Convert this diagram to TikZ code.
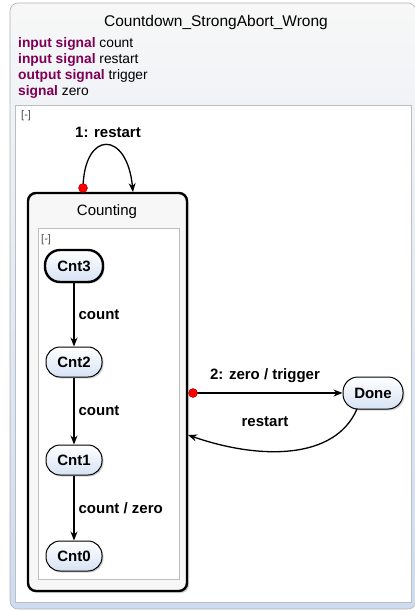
\documentclass[tikz,border=0pt]{standalone}
\usepackage{fontspec}
\setmainfont{Liberation Sans}
\usetikzlibrary{arrows.meta,shadows}
\definecolor{kw}{RGB}{127,0,85}
\definecolor{outerb}{RGB}{205,220,242}
\definecolor{stfill}{RGB}{214,226,244}
\definecolor{regline}{RGB}{190,190,190}
\tikzset{
  statenode/.style={draw=black, line width=1pt, rounded corners=14pt, minimum height=30pt, minimum width=56pt,
    top color=white, bottom color=stfill, font=\bfseries\fontsize{15}{17}\selectfont, inner sep=2pt,
    drop shadow={shadow xshift=1.5pt, shadow yshift=-1.5pt, opacity=0.35}},
  initstate/.style={statenode, line width=2.4pt},
  trans/.style={-{Stealth[length=9pt,width=7pt]}, line width=1.3pt},
  lbl/.style={font=\bfseries\fontsize{15}{17}\selectfont, inner sep=1pt},
  decl/.style={anchor=west, inner sep=0pt, font=\fontsize{13.8}{16}\selectfont},
  reddot/.style={circle, fill=red, draw=red!60!black, line width=0.4pt, minimum size=9pt, inner sep=0pt},
  region/.style={draw=regline, fill=white, line width=0.8pt},
  minus/.style={font=\fontsize{11}{13}\selectfont, text=black!70, inner sep=0pt, anchor=north west},
}
\begin{document}
\begin{tikzpicture}[x=1pt,y=-1pt]
\useasboundingbox (0,0) rectangle (415,611);
% outer state
\path[draw=black!30, rounded corners=8pt, top color=black!3, bottom color=outerb, line width=0.6pt]
  (10,3) rectangle (416,609);
\node (title) at (216,22) {\fontsize{15.5}{18}\selectfont Countdown\_StrongAbort\_Wrong};
\node[decl] (d1) at (18,44) {\textcolor{kw}{\bfseries input signal} count};
\node[decl] (d2) at (18,60) {\textcolor{kw}{\bfseries input signal} restart};
\node[decl] (d3) at (18,76) {\textcolor{kw}{\bfseries output signal} trigger};
\node[decl] (d4) at (18,92) {\textcolor{kw}{\bfseries signal} zero};
% top region
\path[region] (15,105) rectangle (411,602);
\node[minus] (m1) at (21,110) {[-]};
% Counting
\path[draw=black, line width=2.4pt, rounded corners=8pt, fill=black!3,
  drop shadow={shadow xshift=2pt, shadow yshift=-2pt, opacity=0.35}] (28,193) rectangle (187,591);
\node (ctitle) at (107,212) {\fontsize{15}{17}\selectfont Counting};
\path[region] (38,228) rectangle (179,579);
\node[minus] (m2) at (41,234) {[-]};
% states
\node[initstate, minimum width=58pt, minimum height=32pt, rounded corners=15pt] (c3) at (74,266) {Cnt3};
\node[statenode] (c2) at (74,362) {Cnt2};
\node[statenode] (c1) at (74,460) {Cnt1};
\node[statenode] (c0) at (74,556) {Cnt0};
\node[statenode, minimum width=60pt, minimum height=32pt, rounded corners=15pt] (done) at (373,393) {Done};
% inner transitions
\draw[trans] (c3) -- (c2) node[lbl, midway, right=3pt] {count};
\draw[trans] (c2) -- (c1) node[lbl, midway, right=3pt] {count};
\draw[trans] (c1) -- (c0) node[lbl, midway, right=3pt] {count / zero};
% self loop
\coordinate (sl1) at (83,188);
\coordinate (sl2) at (133,192);
\draw[trans] (sl1) .. controls (84,130) and (127,130) .. (sl2);
\node[reddot] (rd1) at (sl1) {};
\node[lbl] (l1) at (108,132) {1: restart};
% Counting -> Done
\coordinate (cd) at (193,393);
\draw[trans] (cd) -- (done.west);
\node[reddot] (rd2) at (cd) {};
\node[lbl] (l2) at (265,376) {2: zero / trigger};
% Done -> Counting
\coordinate (dc) at (188,435);
\coordinate (ds) at (357,409);
\draw[trans] (ds) .. controls (335,460) and (260,460) .. (dc);
\node[lbl] (l3) at (265,422) {restart};
\end{tikzpicture}
\end{document}
